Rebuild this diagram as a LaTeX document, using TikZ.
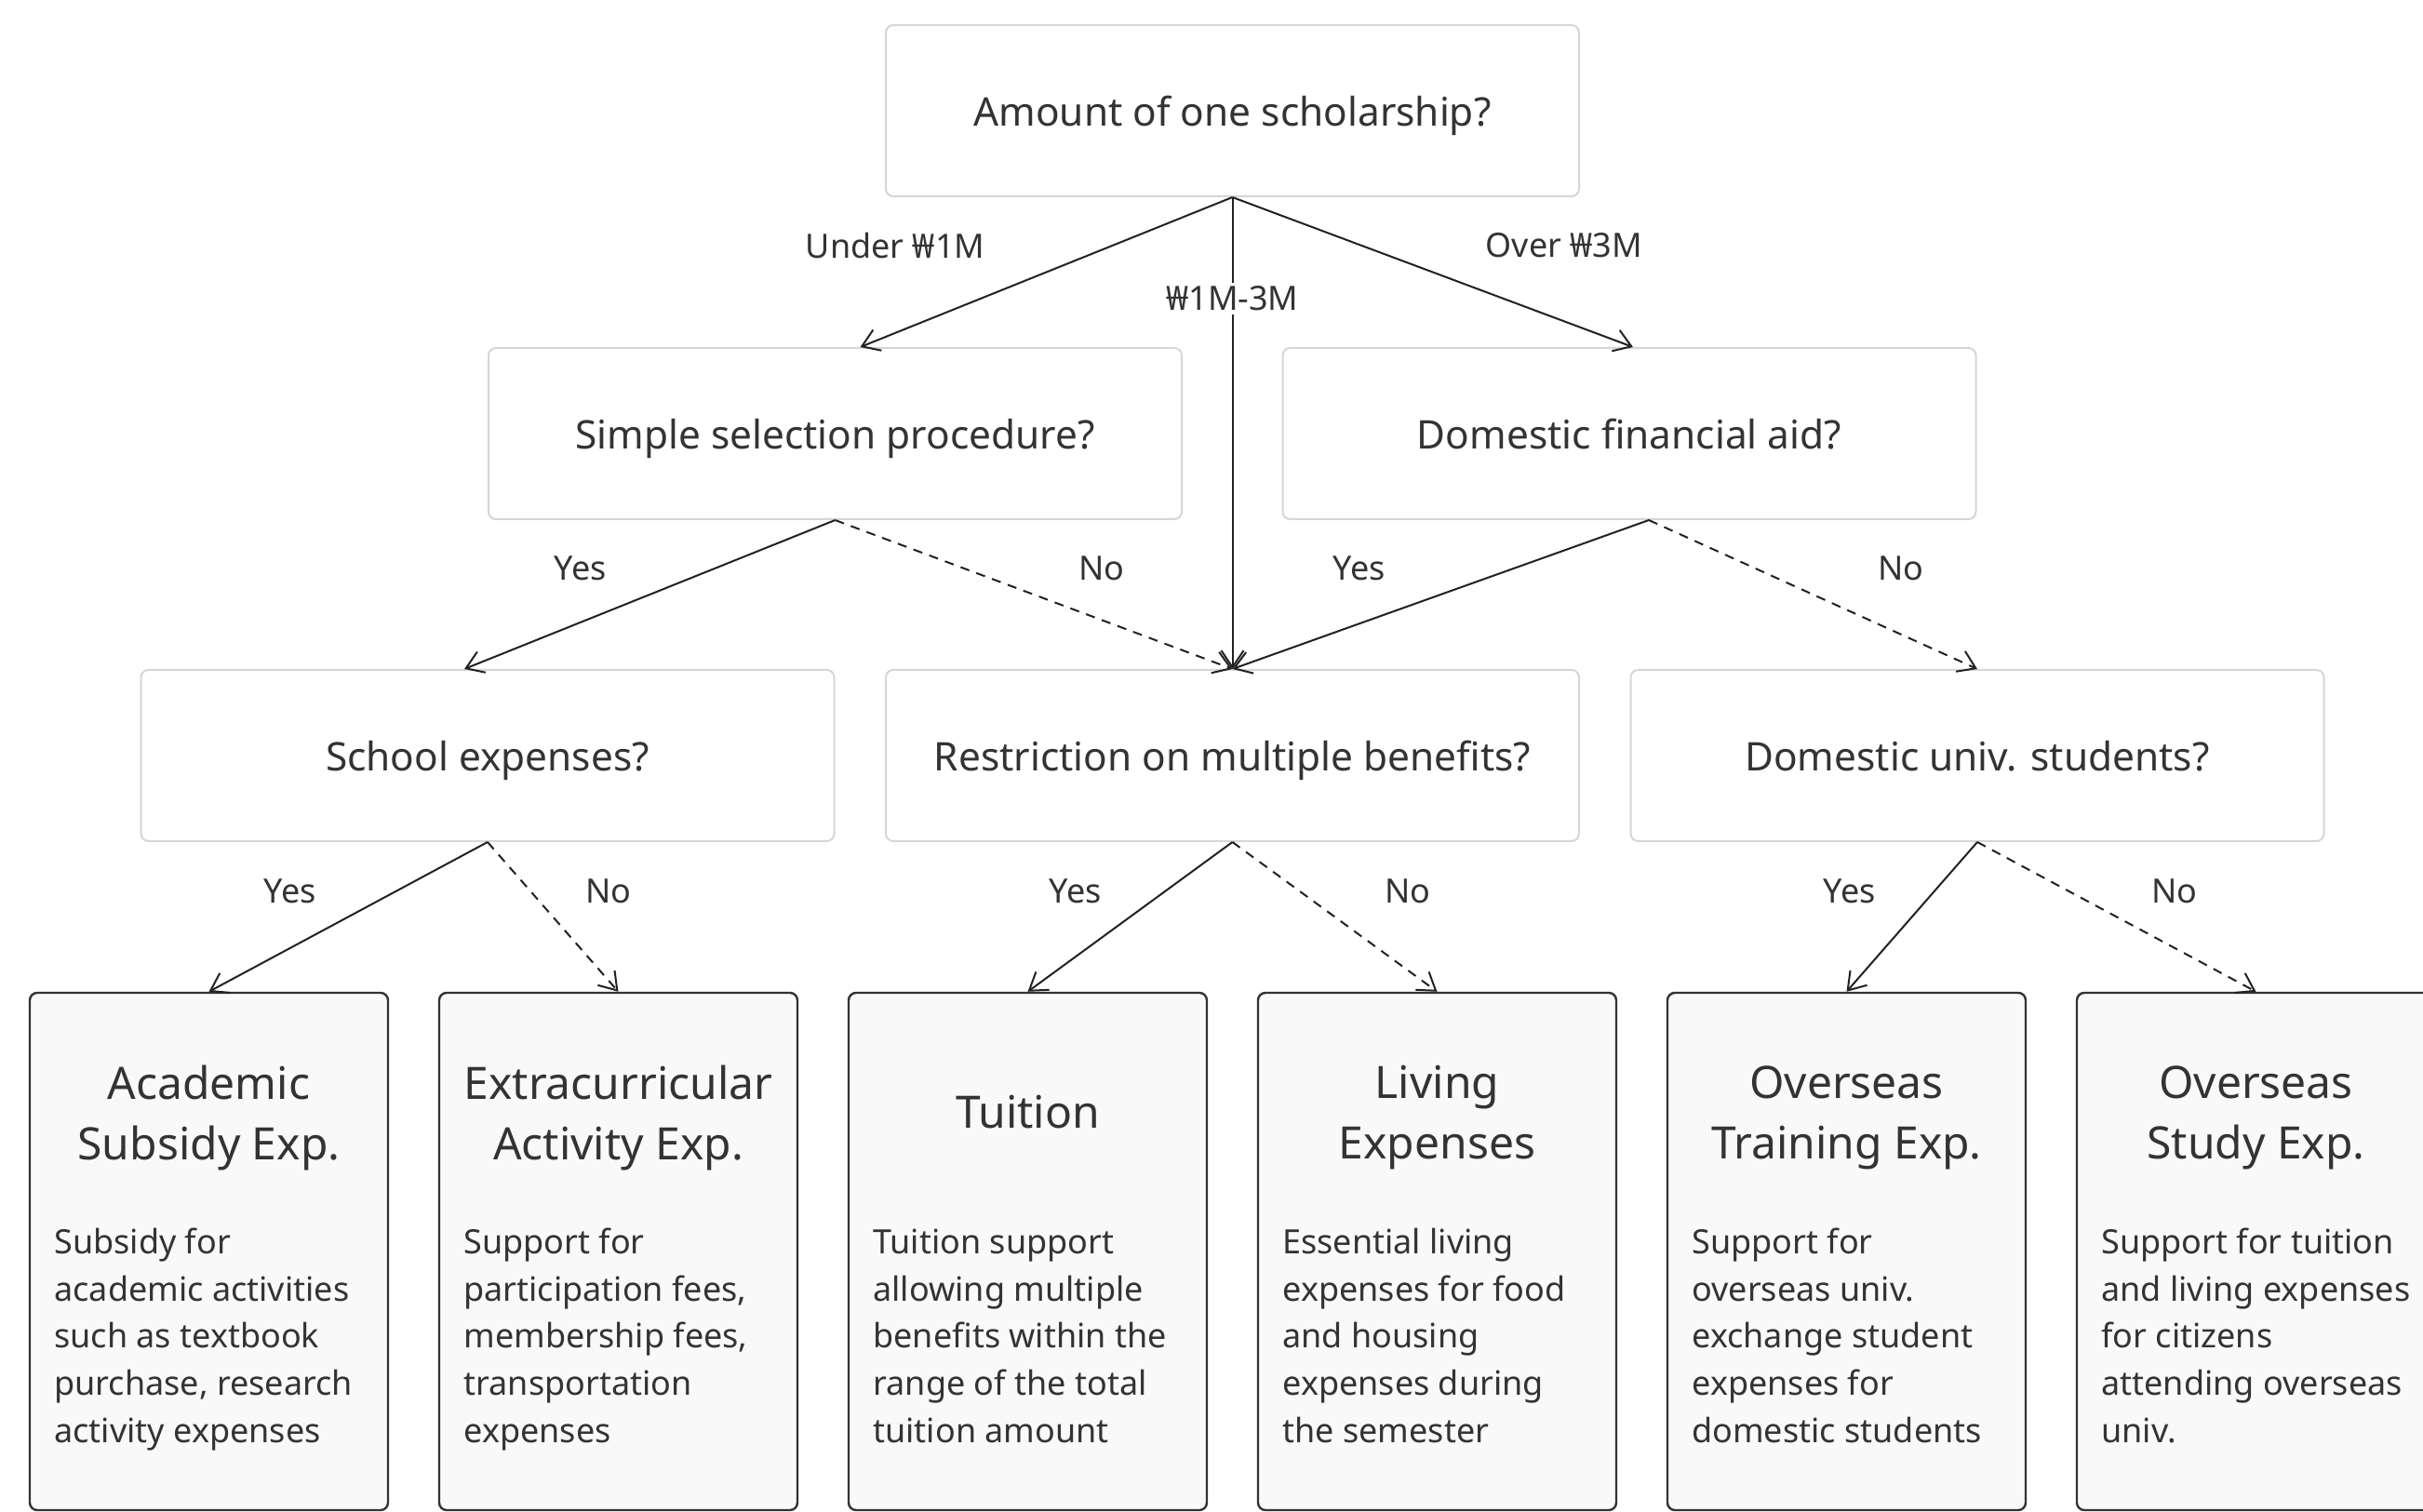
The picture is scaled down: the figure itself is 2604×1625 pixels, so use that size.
\documentclass[tikz,border=0pt]{standalone}
\usepackage{fontspec}
\setmainfont{Noto Sans}
\usetikzlibrary{arrows.meta}
\definecolor{ink}{HTML}{333333}
\definecolor{lineink}{HTML}{222222}
\definecolor{qborder}{HTML}{D6D6D6}
\definecolor{leaffill}{HTML}{F9F9F9}
\tikzset{
  qbox/.style={draw=qborder, line width=1pt, rounded corners=4pt, fill=white,
    minimum width=372.5pt, minimum height=92pt, inner sep=0pt, text=ink,
    text height=16.1pt, text depth=0pt,
    font=\fontsize{21.2}{25}\selectfont},
  leafbox/.style={draw=ink, line width=1.2pt, rounded corners=4pt, fill=leaffill,
    minimum width=192.5pt, minimum height=278pt, inner sep=0pt},
  leaftitle/.style={align=center, text=ink, inner sep=0pt,
    font=\fontsize{24}{32.5}\selectfont},
  leafdesc/.style={align=left, text=ink, inner sep=0pt, anchor=base west,
    font=\fontsize{18}{25.3}\selectfont},
  elabel/.style={text=ink, inner sep=2pt, font=\fontsize{18}{22}\selectfont},
  arr/.style={draw=lineink, line width=1pt, -{Straight Barb[length=9pt,width=12pt,line width=1pt]}},
  narr/.style={arr, dash pattern=on 5pt off 4pt}
}
\begin{document}
\begin{tikzpicture}[x=0.5pt,y=-0.5pt]
\useasboundingbox (0,0) rectangle (2604,1625);
\fill[white] (0,0) rectangle (2604,1625);

% question nodes
\node[qbox] (amt) at (1324.5,119) {Amount of one scholarship?};
\node[qbox] (sel) at (897.5,466) {Simple selection procedure?};
\node[qbox] (dfa) at (1751,466) {Domestic financial aid?};
\node[qbox] (sch) at (524,812) {School expenses?};
\node[qbox] (res) at (1324.5,812) {Restriction on multiple benefits?};
\node[qbox] (dun) at (2125,812) {Domestic univ. students?};

% leaf boxes
\node[leafbox] (aca) at (224.5,1345) {};
\node[leafbox] (ext) at (664.5,1345) {};
\node[leafbox] (tui) at (1104.5,1345) {};
\node[leafbox] (liv) at (1544.5,1345) {};
\node[leafbox] (otr) at (1984.5,1345) {};
\node[leafbox] (ost) at (2424.5,1345) {};

\node[leaftitle] (acaT) at (224.5,1201.5) {Academic\\Subsidy Exp.};
\node[leaftitle] (extT) at (664.5,1201.5) {Extracurricular\\Activity Exp.};
\node[leaftitle] (tuiT) at (1104.5,1195) {Tuition};
\node[leaftitle] (livT) at (1544.5,1201.5) {Living\\Expenses};
\node[leaftitle] (otrT) at (1984.5,1201.5) {Overseas\\Training Exp.};
\node[leaftitle] (ostT) at (2424.5,1201.5) {Overseas\\Study Exp.};

\node[leafdesc] (acaD) at (58,1550) {Subsidy for\\academic activities\\such as textbook\\purchase, research\\activity expenses};
\node[leafdesc] (extD) at (498,1550) {Support for\\participation fees,\\membership fees,\\transportation\\expenses};
\node[leafdesc] (tuiD) at (938,1550) {Tuition support\\allowing multiple\\benefits within the\\range of the total\\tuition amount};
\node[leafdesc] (livD) at (1378,1550) {Essential living\\expenses for food\\and housing\\expenses during\\the semester};
\node[leafdesc] (otrD) at (1818,1550) {Support for\\overseas univ.\\exchange student\\expenses for\\domestic students};
\node[leafdesc] (ostD) at (2258,1550) {Support for tuition\\and living expenses\\for citizens\\attending overseas\\univ.};

% connectors
\draw[arr] (amt.south) -- ([xshift=13.5pt]sel.north);
\draw[arr] (amt.south) -- (res.north);
\draw[arr] (amt.south) -- ([xshift=2pt]dfa.north);
\draw[arr] (sel.south) -- ([xshift=-12.5pt]sch.north);
\draw[narr] (sel.south) -- (res.north);
\draw[arr] ([xshift=10.5pt]dfa.south) -- (res.north);
\draw[narr] ([xshift=10.5pt]dfa.south) -- (dun.north);
\draw[arr] (sch.south) -- (aca.north);
\draw[narr] (sch.south) -- (ext.north);
\draw[arr] (res.south) -- (tui.north);
\draw[narr] (res.south) -- (liv.north);
\draw[arr] (dun.south) -- (otr.north);
\draw[narr] (dun.south) -- (ost.north);

% edge labels
\node[elabel] (l1) at (962,264) {Under ₩1M};
\node[elabel, fill=white] (l2) at (1324.5,321) {₩1M-3M};
\node[elabel] (l3) at (1681,264) {Over ₩3M};
\node[elabel] (l4) at (624,611) {Yes};
\node[elabel] (l5) at (1184,611) {No};
\node[elabel] (l6) at (1461,611) {Yes};
\node[elabel] (l7) at (2043,611) {No};
\node[elabel] (l8) at (312,958) {Yes};
\node[elabel] (l9) at (654,958) {No};
\node[elabel] (l10) at (1156,958) {Yes};
\node[elabel] (l11) at (1513,958) {No};
\node[elabel] (l12) at (1988,958) {Yes};
\node[elabel] (l13) at (2337,958) {No};
\end{tikzpicture}
\end{document}
